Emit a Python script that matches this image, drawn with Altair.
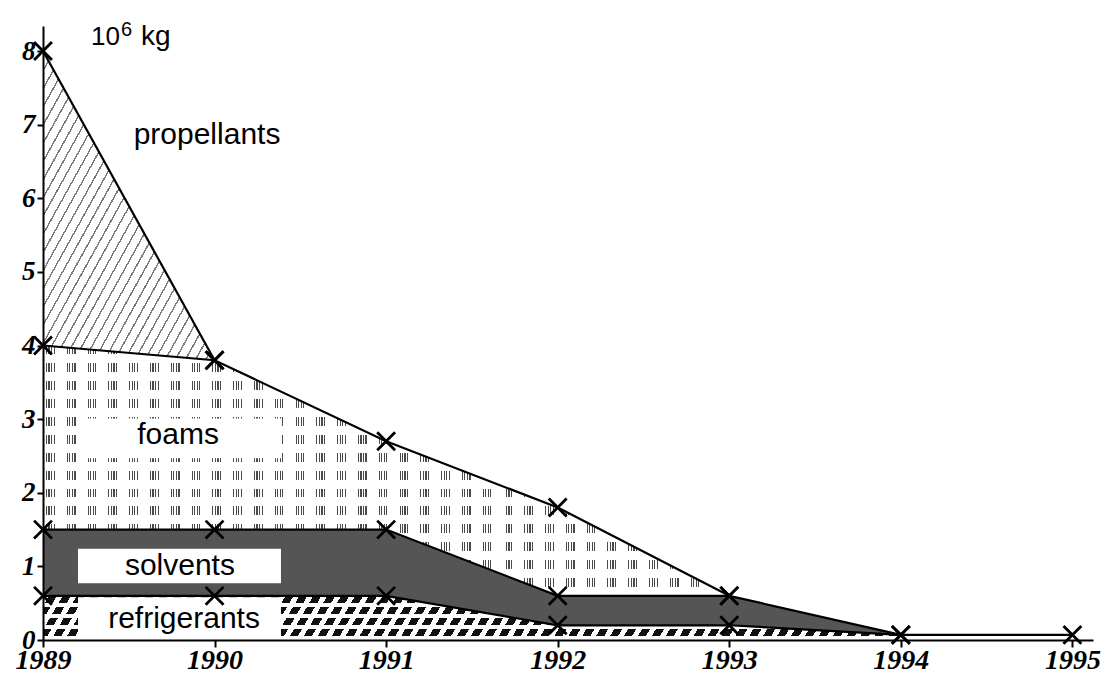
import altair as alt
import pandas as pd

# ---------------- data ----------------
years = [1989, 1990, 1991, 1992, 1993, 1994, 1995]
series_order = ["refrigerants", "solvents", "foams", "propellants"]
refrigerants = [0.6, 0.6, 0.6, 0.2, 0.2, 0.07, 0.07]
solvents = [0.9, 0.9, 0.9, 0.4, 0.4, 0.0, 0.0]
foams = [2.5, 2.3, 1.2, 1.2, 0.0, 0.0, 0.0]
propellants = [4.0, 0.0, 0.0, 0.0, 0.0, 0.0, 0.0]

y_ticks = [0, 1, 2, 3, 4, 5, 6, 7, 8]
x_ticks = years

# in-plot labels (data coordinates)
label_text = ["propellants", "foams", "solvents", "refrigerants"]
label_x = [1989.956, 1989.787, 1989.798, 1989.822]
label_y = [6.86, 2.78, 1.00, 0.28]
box_x = [1989.204, 1989.204, 1989.204]
box_x2 = [1990.387, 1990.387, 1990.387]
box_y = [3.01, 1.24, 0.58]
box_y2 = [2.47, 0.77, 0.04]
unit_text = ["10", "6", "kg"]
unit_x = [1989.280, 1989.455, 1989.571]
unit_y = [8.08, 8.21, 8.08]
unit_size = [26, 20, 28]

# ---------------- build stacked table ----------------
values = {"refrigerants": refrigerants, "solvents": solvents,
          "foams": foams, "propellants": propellants}
rows = []
cum = [0.0] * len(years)
for s in series_order:
    v = values[s]
    nz = [i for i, a in enumerate(v) if a > 0]
    last = min(max(nz) + 1, len(years) - 1)
    for i, yr in enumerate(years):
        lo = cum[i]
        up = cum[i] + v[i]
        if i <= last:
            rows.append({"year": yr, "series": s, "lower": round(lo, 3), "upper": round(up, 3)})
    cum = [c + a for c, a in zip(cum, v)]
df = pd.DataFrame(rows)

labels = pd.DataFrame({"text": label_text, "lx": label_x, "ly": label_y})
boxes = pd.DataFrame({"bx": box_x, "bx2": box_x2, "by": box_y, "by2": box_y2})
units = pd.DataFrame({"text": unit_text, "ux": unit_x, "uy": unit_y, "fs": unit_size})

# ---------------- pattern fills via gradients ----------------
CLEAR = "rgba(255,255,255,0)"


def stripes(n, frac, color, bg, x1, y1, x2, y2):
    stops = []
    for i in range(n):
        a = i / n
        b = (i + frac) / n
        c = (i + 1) / n
        stops += [
            alt.GradientStop(offset=round(a, 6), color=color),
            alt.GradientStop(offset=round(b, 6), color=color),
            alt.GradientStop(offset=round(b, 6), color=bg),
            alt.GradientStop(offset=round(min(c, 1.0), 6), color=bg),
        ]
    return alt.LinearGradient(gradient="linear", stops=stops, x1=x1, y1=y1, x2=x2, y2=y2)


def bars(n, slots, period_px):
    # white mask with transparent slots (slots in px inside one period)
    stops = []
    for i in range(n):
        base = i / n
        pos = 0.0
        for (s0, s1) in slots:
            stops += [
                alt.GradientStop(offset=round(base + pos / period_px / n, 6), color="white"),
                alt.GradientStop(offset=round(base + s0 / period_px / n, 6), color="white"),
                alt.GradientStop(offset=round(base + s0 / period_px / n, 6), color=CLEAR),
                alt.GradientStop(offset=round(base + s1 / period_px / n, 6), color=CLEAR),
            ]
            pos = s1
        stops += [
            alt.GradientStop(offset=round(base + pos / period_px / n, 6), color="white"),
            alt.GradientStop(offset=round(min((i + 1) / n, 1.0), 6), color="white"),
        ]
    return alt.LinearGradient(gradient="linear", stops=stops, x1=0, y1=0, x2=1, y2=0)


fill_prop = stripes(34, 0.16, "#7a7a7a", "white", 0, 0, 1, 1)
fill_foam_rows = stripes(14, 0.5, "#4a4a4a", "white", 0, 0, 0, 1)
fill_foam_mask = bars(33, [(3.0, 4.0), (5.5, 6.6), (8.0, 9.3), (10.6, 11.8)], 20.9)
fill_ref_rows = stripes(4, 0.66, "#111111", "white", 0, 0, 0, 1)
fill_ref_mask = stripes(74, 0.42, "white", CLEAR, 0, 0, 1, 0.025)
fill_solv = "#555555"

# ---------------- encodings ----------------
xscale = alt.Scale(domain=[1989, 1995.12], nice=False, zero=False)
yscale = alt.Scale(domain=[0, 8.34], nice=False, zero=True)
axis_common = dict(
    title=None, grid=False, domainColor="black", domainWidth=2,
    tickColor="black", tickWidth=2, labelColor="black",
    labelFont="Liberation Serif", labelFontStyle="italic", labelFontWeight="bold",
    labelOverlap=False, labelFlush=False, zindex=1,
)
xaxis = alt.Axis(values=x_ticks, format="d", tickSize=7, labelPadding=-1,
                 labelFontSize=28, **axis_common)
yaxis = alt.Axis(values=y_ticks, format="d", tickSize=6, labelPadding=2,
                 labelFontSize=27, **axis_common)

X = alt.X("year:Q", scale=xscale, axis=xaxis)
base = alt.Chart(df)


def area(s, fill):
    return base.transform_filter(alt.datum.series == s).mark_area(
        fill=fill, strokeWidth=0, opacity=1
    ).encode(x=X, y=alt.Y("upper:Q", scale=yscale, axis=yaxis), y2="lower:Q")


layers = [
    area("refrigerants", fill_ref_rows),
    area("refrigerants", fill_ref_mask),
    area("solvents", fill_solv),
    area("foams", fill_foam_rows),
    area("foams", fill_foam_mask),
    area("propellants", fill_prop),
]

box_layer = alt.Chart(boxes).mark_rect(fill="white", strokeWidth=0).encode(
    x=alt.X("bx:Q", scale=xscale, axis=xaxis), x2="bx2:Q",
    y=alt.Y("by:Q", scale=yscale, axis=yaxis), y2="by2:Q",
)

line_layer = base.mark_line(color="black", strokeWidth=2.2).encode(
    x=X, y=alt.Y("upper:Q", scale=yscale, axis=yaxis), detail="series:N"
)

marker_layer = base.mark_point(
    shape="M-1,-1L1,1M-1,1L1,-1", size=320, filled=False,
    stroke="black", strokeWidth=2.8, opacity=1,
).encode(x=X, y=alt.Y("upper:Q", scale=yscale, axis=yaxis))

label_layer = alt.Chart(labels).mark_text(
    font="Liberation Sans", fontSize=30, color="black", align="center", baseline="middle"
).encode(
    x=alt.X("lx:Q", scale=xscale, axis=xaxis),
    y=alt.Y("ly:Q", scale=yscale, axis=yaxis), text="text:N",
)

unit_layer = alt.Chart(units).mark_text(
    font="Liberation Sans", color="black", align="left", baseline="alphabetic"
).encode(
    x=alt.X("ux:Q", scale=xscale, axis=xaxis),
    y=alt.Y("uy:Q", scale=yscale, axis=yaxis), text="text:N",
    size=alt.Size("fs:Q", scale=None, legend=None),
)

chart = alt.layer(
    *layers, box_layer, line_layer, marker_layer, label_layer, unit_layer
).properties(
    width=1050, height=614,
    autosize=alt.AutoSizeParams(type="none"),
    padding={"left": 35, "top": 18, "right": 9, "bottom": 34},
    background="white",
).configure_view(stroke=None)

chart.save("out.html", embed_options={"renderer": "svg", "actions": False})
